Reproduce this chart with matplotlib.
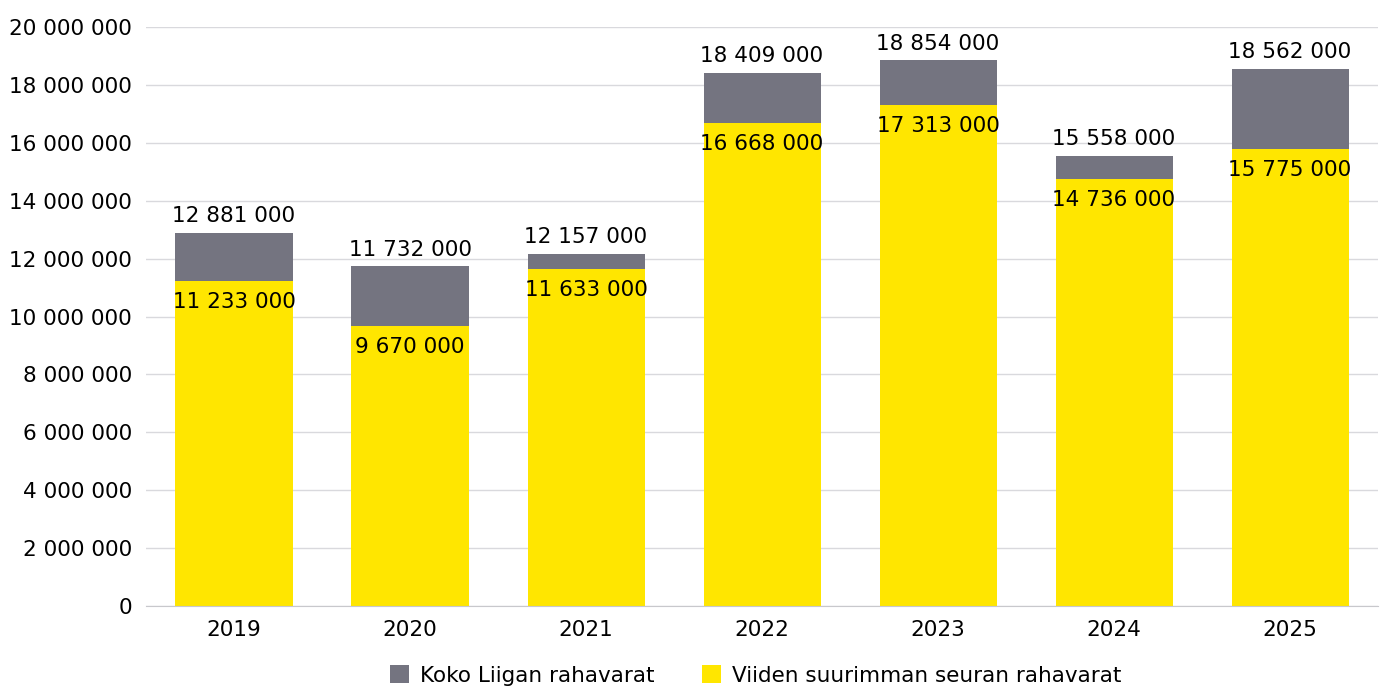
import matplotlib.pyplot as plt

years = ["2019", "2020", "2021", "2022", "2023", "2024", "2025"]
liiga_total = [12881000, 11732000, 12157000, 18409000, 18854000, 15558000, 18562000]
top5_clubs = [11233000, 9670000, 11633000, 16668000, 17313000, 14736000, 15775000]

gray = "#747480"
yellow = "#FFE600"

def fmt(v):
    return f"{v:,}".replace(",", " ")

plt.rcParams['font.family'] = ['DejaVu Sans']

fig = plt.figure(figsize=(13.84, 6.86), dpi=100)
ax = fig.add_axes([0.1055, 0.1166, 0.8902, 0.844])

x = list(range(len(years)))
ax.bar(x, liiga_total, width=0.665, color=gray, label="Koko Liigan rahavarat", zorder=2)
ax.bar(x, top5_clubs, width=0.665, color=yellow, label="Viiden suurimman seuran rahavarat", zorder=3)

for i in x:
    ax.annotate(fmt(liiga_total[i]), (i, liiga_total[i]), xytext=(0, 12),
                textcoords="offset points", ha="center", va="center", fontsize=15.5, zorder=4)
    ax.annotate(fmt(top5_clubs[i]), (i, top5_clubs[i]), xytext=(0, -15),
                textcoords="offset points", ha="center", va="center", fontsize=15.5, zorder=4)

ax.set_xlim(-0.5, len(years) - 0.5)
ax.set_ylim(0, 20000000)
ax.set_yticks(range(0, 20000001, 2000000))
ax.set_yticklabels([fmt(v) for v in range(0, 20000001, 2000000)])
ax.set_xticks(x)
ax.set_xticklabels(years)
ax.tick_params(axis="both", length=0, labelsize=15.5)
ax.tick_params(axis="y", pad=10)
ax.tick_params(axis="x", pad=10)
ax.grid(axis="y", color="#D9D9DD", linewidth=1, zorder=0)
for s in ["top", "right", "left"]:
    ax.spines[s].set_visible(False)
ax.spines["bottom"].set_color("#C8C8CC")
ax.spines["bottom"].set_zorder(5)

fig.legend(loc="lower center", bbox_to_anchor=(0.546, -0.028), ncol=2, frameon=False,
           fontsize=15.5, handlelength=0.9, handleheight=0.9, columnspacing=2.2, handletextpad=0.5)

fig.savefig("out.png", dpi=100)
